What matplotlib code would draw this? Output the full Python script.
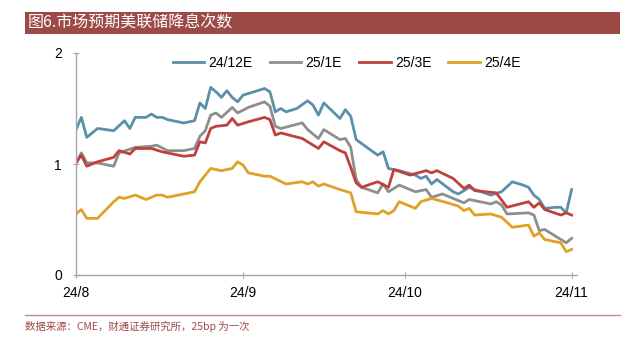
import matplotlib
matplotlib.use("Agg")
import matplotlib.pyplot as plt
from matplotlib.patches import Rectangle
from matplotlib.lines import Line2D

plt.rcParams['font.family'] = ['Liberation Sans', 'Noto Sans CJK SC', 'DejaVu Sans']

# days counted from 2024-08-01
tick_days = [0, 31, 61, 92]
tick_labels = ['24/8', '24/9', '24/10', '24/11']

# 24/12E
d1224 = [0, 1, 2, 4, 7, 9, 10, 11, 13, 14, 15, 16, 17, 20, 22, 23, 24, 25, 26, 27,
         28, 29, 30, 31, 35, 36, 37, 38, 39, 41, 43, 44, 45, 46, 49, 50, 51, 52, 54, 56,
         57, 58, 60, 63, 64, 65, 66, 67, 70, 71, 73, 74, 77, 79, 81, 83, 84, 85, 86, 87,
         89, 90, 91, 92]
v1224 = [1.31, 1.42, 1.24, 1.32, 1.30, 1.39, 1.32, 1.42, 1.42, 1.45, 1.42, 1.42, 1.40, 1.37, 1.39, 1.55, 1.50, 1.69, 1.65, 1.60,
         1.66, 1.60, 1.56, 1.62, 1.68, 1.65, 1.47, 1.50, 1.47, 1.50, 1.57, 1.53, 1.44, 1.55, 1.41, 1.49, 1.43, 1.22, 1.15, 1.08,
         1.11, 0.96, 0.94, 0.90, 0.87, 0.89, 0.82, 0.86, 0.75, 0.73, 0.79, 0.77, 0.72, 0.75, 0.84, 0.81, 0.79, 0.72, 0.68, 0.60,
         0.61, 0.61, 0.56, 0.77]

# 25/1E
d2501 = [0, 1, 2, 4, 7, 8, 11, 14, 15, 17, 20, 22, 23, 24, 25, 26, 27, 29, 30, 32,
         35, 36, 37, 38, 42, 43, 45, 46, 49, 50, 51, 52, 53, 56, 57, 58, 60, 63, 65, 66,
         68, 70, 72, 73, 77, 78, 79, 80, 84, 85, 86, 87, 91, 92]
v2501 = [1.01, 1.10, 1.01, 1.01, 0.98, 1.10, 1.15, 1.16, 1.17, 1.12, 1.12, 1.14, 1.25, 1.30, 1.44, 1.46, 1.42, 1.51, 1.46, 1.51,
         1.56, 1.52, 1.34, 1.32, 1.37, 1.31, 1.23, 1.31, 1.22, 1.23, 1.15, 0.86, 0.79, 0.74, 0.82, 0.75, 0.81, 0.75, 0.77, 0.70,
         0.73, 0.69, 0.65, 0.68, 0.64, 0.66, 0.63, 0.55, 0.56, 0.54, 0.40, 0.41, 0.29, 0.33]

# 25/3E
d2503 = [0, 1, 2, 4, 7, 8, 10, 11, 14, 16, 20, 22, 23, 24, 25, 26, 28, 29, 30, 32,
         35, 36, 37, 38, 42, 43, 45, 46, 49, 50, 51, 52, 53, 56, 58, 59, 62, 65, 66, 67,
         70, 72, 73, 74, 76, 78, 80, 84, 85, 86, 87, 90, 91, 92]
v2503 = [1.01, 1.08, 0.98, 1.02, 1.06, 1.12, 1.09, 1.14, 1.14, 1.11, 1.07, 1.08, 1.20, 1.19, 1.32, 1.34, 1.35, 1.41, 1.35, 1.38,
         1.42, 1.40, 1.26, 1.28, 1.23, 1.20, 1.14, 1.20, 1.12, 1.10, 0.97, 0.83, 0.79, 0.84, 0.79, 0.95, 0.90, 0.94, 0.92, 0.94,
         0.87, 0.78, 0.81, 0.76, 0.75, 0.74, 0.61, 0.66, 0.61, 0.65, 0.59, 0.54, 0.56, 0.54]

# 25/4E
d2504 = [0, 1, 2, 4, 7, 8, 9, 11, 13, 15, 16, 17, 22, 23, 25, 27, 29, 30, 31, 32,
         35, 36, 39, 42, 43, 44, 45, 46, 49, 51, 52, 56, 57, 58, 59, 60, 63, 64, 66, 69,
         71, 72, 73, 74, 77, 79, 81, 84, 85, 86, 87, 90, 91, 92]
v2504 = [0.55, 0.59, 0.51, 0.51, 0.66, 0.70, 0.69, 0.72, 0.68, 0.72, 0.72, 0.70, 0.75, 0.84, 0.96, 0.94, 0.96, 1.02, 0.99, 0.92,
         0.89, 0.89, 0.82, 0.84, 0.82, 0.84, 0.80, 0.82, 0.77, 0.74, 0.57, 0.55, 0.58, 0.55, 0.58, 0.66, 0.60, 0.66, 0.69, 0.65,
         0.62, 0.58, 0.60, 0.54, 0.55, 0.52, 0.43, 0.45, 0.35, 0.38, 0.32, 0.29, 0.21, 0.23]

series = [
    ('24/12E', d1224, v1224, '#5b90aa'),
    ('25/1E', d2501, v2501, '#8e8e8e'),
    ('25/3E', d2503, v2503, '#c0403e'),
    ('25/4E', d2504, v2504, '#e0a126'),
]

fig = plt.figure(figsize=(6.32, 3.45), dpi=100)
W, H = 632, 345

# title bar
fig.patches.append(Rectangle((25 / W, 1 - 34 / H), 595 / W, 22 / H,
                             transform=fig.transFigure, facecolor='#9c4a46',
                             edgecolor='none'))
fig.text(28 / W, 1 - 23 / H, '图6.市场预期美联储降息次数', color='white',
         fontsize=11.5, va='center', ha='left',
         family=['Noto Sans CJK SC', 'DejaVu Sans'])

ax = fig.add_axes([76 / W, 1 - 275 / H, 501 / W, 222 / H])
for name, d, v, c in series:
    ax.plot(d, v, color=c, lw=2.0, label=name)

ax.set_xlim(0, 93)
ax.set_ylim(0, 2)
ax.set_yticks([0, 1, 2])
ax.set_yticklabels(['0', '1', '2'])
ax.set_xticks(tick_days)
ax.set_xticklabels(tick_labels)
for s in ['top', 'right']:
    ax.spines[s].set_visible(False)
for s in ['left', 'bottom']:
    ax.spines[s].set_color('#a6a6a6')
    ax.spines[s].set_linewidth(1.0)
ax.tick_params(axis='both', colors='#a6a6a6', labelcolor='black', labelsize=10,
               length=4, direction='inout')
ax.tick_params(axis='x', pad=6)
ax.tick_params(axis='y', pad=8)

handles = [Line2D([], [], color=c, lw=2.0) for _, _, _, c in series]
ax.legend(handles, [s[0] for s in series], loc='center',
          bbox_to_anchor=(0.54, 0.955), ncol=4, frameon=False, fontsize=10,
          handlelength=2.3, handletextpad=0.3, columnspacing=1.2,
          borderaxespad=0, borderpad=0)

# bottom rule and source
fig.add_artist(Line2D([25 / W, 620 / W], [1 - 315 / H, 1 - 315 / H],
                      transform=fig.transFigure, color='#c08a86', lw=1.0))
fig.text(25 / W, 1 - 326 / H, '数据来源：CME，财通证券研究所，25bp 为一次',
         color='#9c4a46', fontsize=7.5, va='center', ha='left',
         family=['Noto Sans CJK SC', 'DejaVu Sans'])

fig.savefig('out.png', dpi=100)
